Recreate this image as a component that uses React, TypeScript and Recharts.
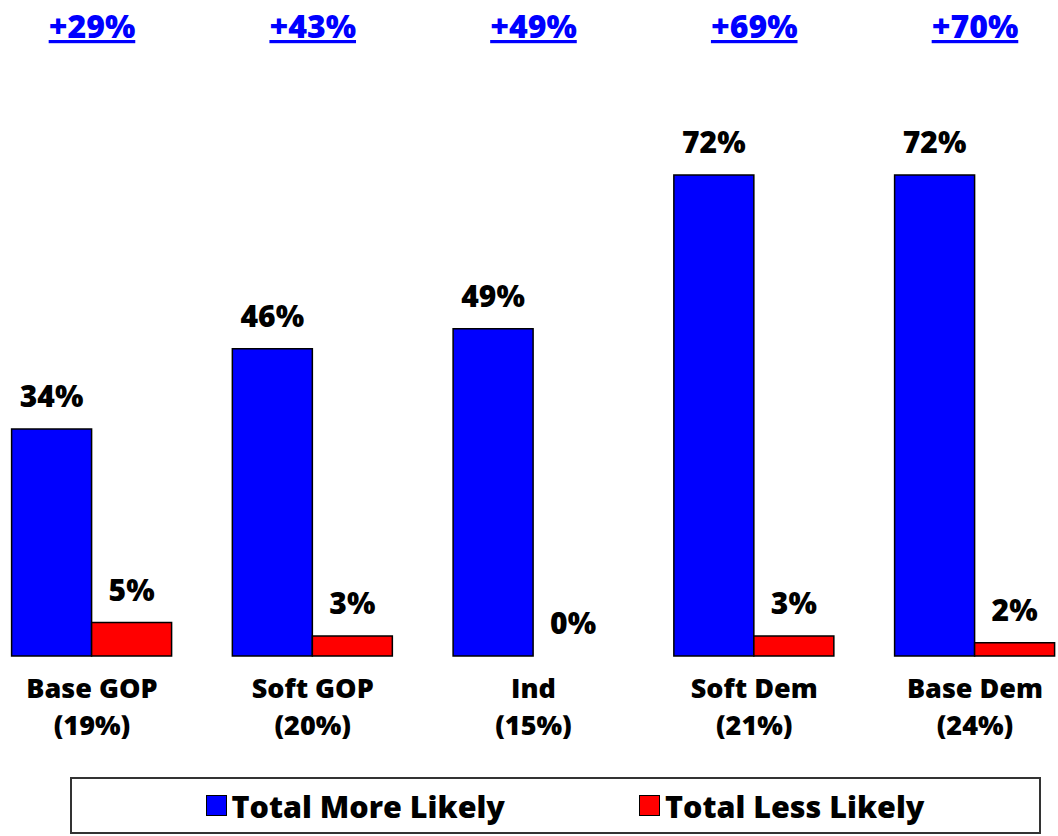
import React from 'react';
import { BarChart, Bar, XAxis, YAxis, LabelList, Legend, Rectangle } from 'recharts';

const categories = ['Base GOP', 'Soft GOP', 'Ind', 'Soft Dem', 'Base Dem'];
const shares = ['(19%)', '(20%)', '(15%)', '(21%)', '(24%)'];
const moreLikely = [34, 46, 49, 72, 72];
const lessLikely = [5, 3, 0, 3, 2];
const netLabels = ['+29%', '+43%', '+49%', '+69%', '+70%'];

const seriesNames = { more: 'Total More Likely', less: 'Total Less Likely' };
const BLUE = '#0000FF';
const RED = '#FF0000';
const FONT = '"Open Sans", "DejaVu Sans", sans-serif';
const WEIGHT = 800;

const data = categories.map((name, i) => ({
  name,
  share: shares[i],
  net: netLabels[i],
  more: moreLikely[i],
  less: lessLikely[i],
}));

const BottomTick = (props: any) => {
  const { x, y, payload, index } = props;
  return (
    <g>
      <text x={x} y={y + 42} textAnchor="middle" fontFamily={FONT} fontWeight={WEIGHT} fontSize={27} fill="#000">
        {payload.value}
      </text>
      <text x={x} y={y + 79} textAnchor="middle" fontFamily={FONT} fontWeight={WEIGHT} fontSize={27} fill="#000">
        {shares[index]}
      </text>
    </g>
  );
};

const TopTick = (props: any) => {
  const { x, y, index } = props;
  return (
    <text
      x={x}
      y={y - 83.6}
      textAnchor="middle"
      fontFamily={FONT}
      fontWeight={WEIGHT}
      fontSize={32}
      fill={BLUE}
      style={{ textDecoration: 'underline', textDecorationThickness: 3 }}
    >
      {netLabels[index]}
    </text>
  );
};

const ValueLabel = (props: any) => {
  const { x, y, width, height, value } = props;
  const top = Math.min(Number(y), Number(y) + Number(height));
  return (
    <text
      x={Number(x) + Number(width) / 2}
      y={top - 22}
      textAnchor="middle"
      fontFamily={FONT}
      fontWeight={WEIGHT}
      fontSize={30}
      fill="#000"
    >
      {`${value}%`}
    </text>
  );
};

const BarShape = (props: any) => {
  if (Math.abs(Number(props.height)) < 0.5) return <g />;
  return <Rectangle {...props} />;
};

const LegendContent = () => (
  <div
    style={{
      boxSizing: 'border-box',
      width: '100%',
      height: '100%',
      border: '2px solid #333',
      display: 'flex',
      alignItems: 'center',
      justifyContent: 'center',
      gap: 134,
      paddingLeft: 19,
      fontFamily: FONT,
      fontWeight: WEIGHT,
      fontSize: 30.5,
      color: '#000',
    }}
  >
    {[
      { c: BLUE, t: seriesNames.more },
      { c: RED, t: seriesNames.less },
    ].map((it) => (
      <div key={it.t} style={{ display: 'flex', alignItems: 'center' }}>
        <span
          style={{
            display: 'inline-block',
            width: 19,
            height: 19,
            background: it.c,
            border: '1px solid #000',
            marginRight: 5,
          }}
        />
        <span style={{ lineHeight: '40px' }}>{it.t}</span>
      </div>
    ))}
  </div>
);

export default function App() {
  return (
    <div
      style={{
        position: 'absolute',
        left: 0,
        top: 0,
        width: 1058,
        height: 836,
        overflow: 'hidden',
        background: '#fff',
        fontFamily: FONT,
      }}
    >
      <div style={{ position: 'absolute', left: -40, top: 0 }}>
        <BarChart
          width={1146}
          height={836}
          data={data}
          margin={{ top: 0, right: 20.65, bottom: 0, left: 21.6 }}
          barCategoryGap={30}
          barGap={0}
        >
          <XAxis
            dataKey="name"
            xAxisId="top"
            orientation="top"
            height={121.6}
            axisLine={false}
            tickLine={false}
            tickSize={0}
            tickMargin={0}
            interval={0}
            tick={<TopTick />}
          />
          <XAxis
            dataKey="name"
            height={180}
            axisLine={false}
            tickLine={false}
            tickSize={0}
            tickMargin={0}
            interval={0}
            tick={<BottomTick />}
          />
          <YAxis hide domain={[0, 80]} />
          <Legend
            layout="horizontal"
            verticalAlign="middle"
            align="center"
            content={<LegendContent />}
            wrapperStyle={{ left: 110, top: 777, width: 971, height: 57 }}
          />
          <Bar
            dataKey="more"
            name={seriesNames.more}
            fill={BLUE}
            stroke="#000"
            strokeWidth={1.5}
            shape={<BarShape />}
            isAnimationActive={false}
          >
            <LabelList dataKey="more" content={<ValueLabel />} />
          </Bar>
          <Bar
            dataKey="less"
            name={seriesNames.less}
            fill={RED}
            stroke="#000"
            strokeWidth={1.5}
            minPointSize={0.2}
            shape={<BarShape />}
            isAnimationActive={false}
          >
            <LabelList dataKey="less" content={<ValueLabel />} />
          </Bar>
        </BarChart>
      </div>
    </div>
  );
}
